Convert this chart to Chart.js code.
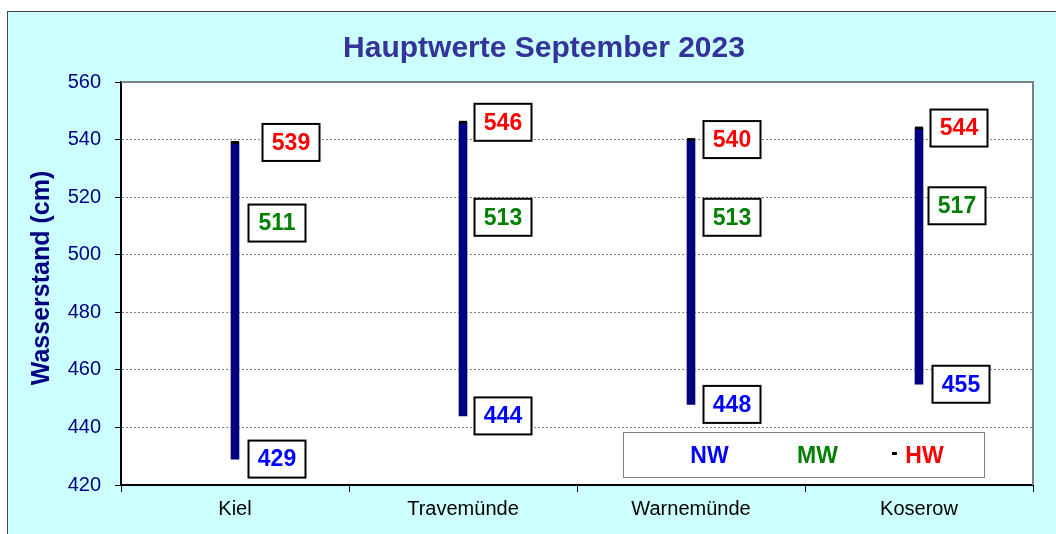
<!DOCTYPE html>
<html>
<head>
<meta charset="utf-8">
<script src="https://cdn.jsdelivr.net/npm/chart.js@4"></script>
<style>
    html, body { margin: 0; padding: 0; background: #fff; overflow: hidden; }
    #wrap {
        position: absolute; left: 7px; top: 11px;
        width: 1049px; height: 523px;
        background: #ccffff;
        border-left: 1px solid #444; border-top: 1px solid #444;
    }
    canvas { display: block; }
</style>
</head>
<body>
<div id="wrap"><canvas id="pegelChart" width="1048" height="522"></canvas></div>
<script>
const stations = ['Kiel', 'Travemünde', 'Warnemünde', 'Koserow'];
const nw = [429, 444, 448, 455];
const mw = [511, 513, 513, 517];
const hw = [539, 546, 540, 544];
const yTicks = [420, 440, 460, 480, 500, 520, 540, 560];
const seriesNames = ['NW', 'MW', 'HW'];

const colNW = '#0000ff', colMW = '#008000', colHW = '#ff0000';

// Kasten mit Wert neben dem Balken
function drawBox(ctx, x, y, text, color) {
    const w = 57, h = 37;
    ctx.fillStyle = '#fff';
    ctx.fillRect(x - w / 2, y - h / 2, w, h);
    ctx.lineWidth = 2;
    ctx.strokeStyle = '#000';
    ctx.strokeRect(x - w / 2, y - h / 2, w, h);
    ctx.fillStyle = color;
    ctx.font = 'bold 23px Arial, "Liberation Sans"';
    ctx.textAlign = 'center';
    ctx.textBaseline = 'middle';
    ctx.fillText(text, x, y + 1);
}

const extras = {
    id: 'extras',
    beforeDraw(chart) {
        const a = chart.chartArea;
        chart.ctx.save();
        chart.ctx.fillStyle = '#fff';
        chart.ctx.fillRect(a.left, a.top, a.right - a.left, a.bottom - a.top);
        chart.ctx.restore();
    },
    afterDraw(chart, args, opts) {
        const ctx = chart.ctx;
        const a = chart.chartArea;
        const xs = chart.scales.x, ys = chart.scales.y;
        ctx.save();

        // Rahmen oben / rechts
        ctx.strokeStyle = '#808080';
        ctx.lineWidth = 2;
        ctx.beginPath();
        ctx.moveTo(a.left, a.top);
        ctx.lineTo(a.right, a.top);
        ctx.lineTo(a.right, a.bottom);
        ctx.stroke();

        // Titel
        ctx.fillStyle = '#333399';
        ctx.font = 'bold 30px Arial, "Liberation Sans"';
        ctx.textAlign = 'center';
        ctx.textBaseline = 'alphabetic';
        ctx.fillText('Hauptwerte September 2023', 536, 45);

        // Achsentitel
        ctx.save();
        ctx.translate(41, 266);
        ctx.rotate(-Math.PI / 2);
        ctx.fillStyle = '#000080';
        ctx.font = 'bold 25px Arial, "Liberation Sans"';
        ctx.fillText('Wasserstand (cm)', 0, 0);
        ctx.restore();

        // Wertekästen
        stations.forEach((s, i) => {
            const cx = xs.getPixelForValue(i);
            const off = opts.offsets[i];
            drawBox(ctx, cx + off[2], ys.getPixelForValue(hw[i]), String(hw[i]), colHW);
            drawBox(ctx, cx + off[1], ys.getPixelForValue(mw[i]), String(mw[i]), colMW);
            drawBox(ctx, cx + off[0], ys.getPixelForValue(nw[i]), String(nw[i]), colNW);
        });

        // Legende
        ctx.fillStyle = '#fff';
        ctx.fillRect(615, 420, 361, 45);
        ctx.strokeStyle = '#808080';
        ctx.lineWidth = 1;
        ctx.strokeRect(615.5, 420.5, 361, 45);
        ctx.font = 'bold 23px Arial, "Liberation Sans"';
        ctx.textAlign = 'center';
        ctx.textBaseline = 'alphabetic';
        ctx.fillStyle = colNW;
        ctx.fillText(seriesNames[0], 701.5, 451);
        ctx.fillStyle = colMW;
        ctx.fillText(seriesNames[1], 809.5, 451);
        ctx.fillStyle = colHW;
        ctx.fillText(seriesNames[2], 916.5, 451);
        ctx.fillStyle = '#000';
        ctx.fillRect(884, 440, 5, 3);

        ctx.restore();
    }
};

new Chart(document.getElementById('pegelChart'), {
    data: {
        labels: stations,
        datasets: [{
            type: 'bar',
            label: 'NW-HW',
            data: stations.map((s, i) => [nw[i], hw[i]]),
            backgroundColor: '#000080',
            barThickness: 8,
            order: 2
        }, {
            type: 'line',
            label: 'HW',
            data: hw,
            showLine: false,
            pointStyle: 'line',
            pointRadius: 4,
            pointBorderWidth: 3,
            pointBorderColor: '#000',
            order: 1
        }]
    },
    options: {
        responsive: false,
        animation: false,
        devicePixelRatio: 1,
        layout: { padding: { left: 0, top: 70, right: 23, bottom: 0 } },
        plugins: {
            legend: { display: false },
            tooltip: { enabled: false },
            extras: {
                // [NW, MW, HW] Versatz der Kästen zum Balken
                offsets: [[42, 42, 56], [40, 40, 40], [41, 41, 41], [42, 38, 40]]
            }
        },
        scales: {
            x: {
                offset: true,
                grid: {
                    offset: true,
                    drawOnChartArea: false,
                    drawTicks: true,
                    tickLength: 7,
                    tickColor: '#000'
                },
                border: { display: true, color: '#000', width: 2 },
                ticks: {
                    color: '#000',
                    padding: 5,
                    font: { size: 20, family: 'Arial, "Liberation Sans"' }
                },
                afterFit: s => { s.height = 49; }
            },
            y: {
                min: 420,
                max: 560,
                afterBuildTicks: s => { s.ticks = yTicks.map(v => ({ value: v })); },
                grid: {
                    color: '#808080',
                    lineWidth: 1,
                    tickColor: '#000',
                    tickLength: 6,
                    tickBorderDash: []
                },
                border: { display: true, color: '#000', width: 2, dash: [2, 2] },
                ticks: {
                    color: '#000080',
                    padding: 14,
                    font: { size: 20, family: 'Arial, "Liberation Sans"' }
                },
                afterFit: s => { s.width = 113; }
            }
        }
    },
    plugins: [extras]
});
</script>
</body>
</html>
